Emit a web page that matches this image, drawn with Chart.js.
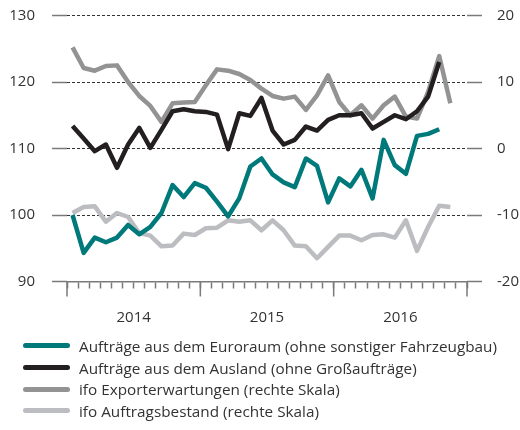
<!DOCTYPE html>
<html>
<head>
<meta charset="utf-8">
<title>Auftragseingang und ifo Indikatoren</title>
<script src="https://cdn.jsdelivr.net/npm/chart.js@4.4.1/dist/chart.umd.min.js"></script>
<style>
    body { margin: 0; background: #fff; }
    .chart-wrap { position: relative; width: 520px; height: 430px; }
    .legend { position: absolute; left: 23px; top: 335px; font-family: "Open Sans", sans-serif; font-size: 15.3px; color: #333; }
    .legend-item { display: flex; align-items: center; height: 21.7px; white-space: nowrap; }
    .legend-line { width: 47px; height: 5px; border-radius: 3px; margin-right: 9px; flex: none; }
</style>
</head>
<body>
<div class="chart-wrap">
    <canvas id="orders" width="520" height="430"></canvas>
    <div class="legend js-legend"></div>
</div>
<script>
// monthly values from Jan 2014, left scale = index, right scale = balance
const yearLabels = ['2014', '2015', '2016'];

const euroraum = [100.0, 94.3, 96.6, 95.9, 96.6, 98.5, 97.1, 98.2, 100.3, 104.5,
    102.7, 104.8, 104.1, 102.0, 99.8, 102.5, 107.3, 108.5, 106.1, 104.9,
    104.2, 108.5, 107.4, 101.9, 105.5, 104.3, 106.8, 102.5, 111.3, 107.5,
    106.2, 111.9, 112.2, 112.9];

const ausland = [113.4, 111.5, 109.6, 110.6, 107.1, 110.6, 113.1, 110.1, 112.8, 115.6,
    115.9, 115.6, 115.5, 115.1, 109.9, 115.3, 114.9, 117.6, 112.7, 110.6,
    111.3, 113.3, 112.7, 114.3, 115.0, 115.0, 115.3, 113.0, 114.0, 115.0,
    114.4, 115.6, 117.8, 123.0];

const exporterwartungen = [15.2, 12.1, 11.7, 12.4, 12.5, 10.0, 7.9, 6.4, 4.0, 6.8,
    6.9, 7.0, 9.5, 11.9, 11.7, 11.2, 10.3, 9.0, 7.9, 7.5,
    7.8, 5.8, 8.0, 11.0, 7.0, 5.0, 6.5, 4.5, 6.5, 7.8,
    4.8, 4.5, 8.5, 13.9, 6.8];

const auftragsbestand = [-9.7, -8.8, -8.7, -11.0, -9.7, -10.3, -12.7, -13.1, -14.7, -14.6,
    -12.8, -13.0, -12.0, -11.9, -10.8, -11.0, -10.8, -12.3, -10.8, -12.3,
    -14.6, -14.7, -16.5, -14.8, -13.1, -13.1, -13.8, -13.0, -12.9, -13.4,
    -10.8, -15.4, -11.8, -8.6, -8.8];

const seriesLabels = [
    'Aufträge aus dem Euroraum (ohne sonstiger Fahrzeugbau)',
    'Aufträge aus dem Ausland (ohne Großaufträge)',
    'ifo Exporterwartungen (rechte Skala)',
    'ifo Auftragsbestand (rechte Skala)'
];
const seriesColors = ['#00797b', '#231f20', '#939393', '#bcbdc0'];

const textColor = '#333333';
const axisGray = '#7a7a7a';
const labelFont = { family: '"Open Sans", sans-serif', size: 15 };

// month i sits in the middle of its month slot
function toPoints(values) {
    return values.map((value, i) => ({ x: i + 0.5, y: value }));
}

function makeDataset(index, values, axis) {
    return {
        label: seriesLabels[index],
        data: toPoints(values),
        yAxisID: axis,
        borderColor: seriesColors[index],
        backgroundColor: seriesColors[index],
        borderWidth: 4.5,
        borderJoinStyle: 'round',
        pointRadius: 0,
        tension: 0
    };
}

// y axes: fixed width, no extra room above/below for the labels
function fitYAxis(width) {
    return (scale) => {
        scale.width = width;
        scale.paddingTop = 0;
        scale.paddingBottom = 0;
    };
}

// long tick marks at the year boundaries
const yearTicks = {
    id: 'yearTicks',
    afterDraw(chart) {
        const xScale = chart.scales.x;
        const ctx = chart.ctx;
        ctx.save();
        ctx.strokeStyle = axisGray;
        ctx.lineWidth = 1.5;
        for (let k = 0; k <= yearLabels.length; k++) {
            const px = xScale.getPixelForValue(k * 12);
            ctx.beginPath();
            ctx.moveTo(px, xScale.top);
            ctx.lineTo(px, xScale.top + 15);
            ctx.stroke();
        }
        ctx.restore();
    }
};

const ordersChart = new Chart(document.getElementById('orders').getContext('2d'), {
    type: 'line',
    data: {
        datasets: [
            makeDataset(0, euroraum, 'y'),
            makeDataset(1, ausland, 'y'),
            makeDataset(2, exporterwartungen, 'y2'),
            makeDataset(3, auftragsbestand, 'y2')
        ]
    },
    options: {
        responsive: false,
        animation: false,
        layout: { padding: { top: 15.5, bottom: 98.5, left: 0, right: 0 } },
        plugins: {
            legend: { display: false },
            tooltip: { enabled: false }
        },
        scales: {
            x: {
                type: 'linear',
                min: 0,
                max: yearLabels.length * 12,
                afterBuildTicks: (scale) => {
                    scale.ticks = [];
                    for (let m = 0; m <= yearLabels.length * 12; m++) {
                        scale.ticks.push({ value: m });
                    }
                },
                afterFit: (scale) => {
                    scale.height = 50;
                    scale.paddingLeft = 0;
                    scale.paddingRight = 0;
                },
                ticks: {
                    autoSkip: false,
                    maxRotation: 0,
                    padding: 20,
                    color: textColor,
                    font: labelFont,
                    callback: (value) => (value % 12 === 6 ? yearLabels[(value - 6) / 12] : '')
                },
                grid: {
                    drawOnChartArea: false,
                    tickLength: 7,
                    tickColor: axisGray,
                    tickWidth: 1.5
                },
                border: { color: axisGray, width: 1.5 }
            },
            y: {
                position: 'left',
                min: 90,
                max: 130,
                afterFit: fitYAxis(67),
                ticks: { stepSize: 10, padding: 17, color: textColor, font: labelFont },
                grid: {
                    color: (c) => (c.tick && c.tick.value === 90 ? 'rgba(0,0,0,0)' : '#333333'),
                    lineWidth: 1,
                    tickLength: 15,
                    tickColor: axisGray,
                    tickWidth: 1.5,
                    tickBorderDash: []
                },
                border: { display: false, dash: [3, 2] }
            },
            y2: {
                position: 'right',
                min: -20,
                max: 20,
                afterFit: fitYAxis(53),
                ticks: { stepSize: 10, padding: 15, color: textColor, font: labelFont },
                grid: {
                    drawOnChartArea: false,
                    tickLength: 15,
                    tickColor: axisGray,
                    tickWidth: 1.5
                },
                border: { display: false }
            }
        }
    },
    plugins: [yearTicks]
});

// legend, one series per row
document.querySelector('.js-legend').innerHTML = ordersChart.data.datasets.map((dataset) => `
    <div class="legend-item">
        <span class="legend-line" style="background:${dataset.borderColor}"></span>
        <span>${dataset.label}</span>
    </div>
`).join('');
</script>
</body>
</html>
